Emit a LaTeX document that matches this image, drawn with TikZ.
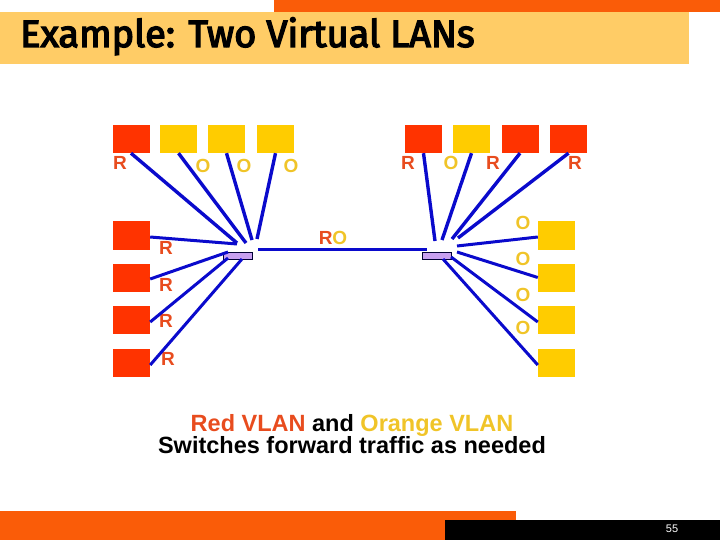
\documentclass[tikz,border=0pt]{standalone}
\usepackage{fontspec}
\setmainfont{Liberation Sans}
\newfontfamily\titlefont{Fira Sans}[FakeBold=3.5]
\usepackage{xcolor}
\definecolor{vlred}{RGB}{255,51,0}
\definecolor{vlyellow}{RGB}{255,204,0}
\definecolor{vlredtxt}{RGB}{232,76,30}
\definecolor{vlorgtxt}{RGB}{240,196,40}
\definecolor{vlblue}{RGB}{10,10,204}
\definecolor{vltitle}{RGB}{255,204,102}
\definecolor{vlorange}{RGB}{250,92,8}
\definecolor{vlswitch}{RGB}{200,160,240}
\usetikzlibrary{positioning}

\tikzset{
  redhost/.style={fill=vlred, minimum width=37pt, minimum height=28pt, inner sep=0pt},
  orghost/.style={fill=vlyellow, minimum width=37pt, minimum height=28pt, inner sep=0pt},
  switchbox/.style={draw=black!80!blue, fill=vlswitch, line width=0.8pt,
                    minimum width=29pt, minimum height=7pt, inner sep=0pt},
  rlab/.style={font=\fontsize{19}{20}\selectfont\bfseries, text=vlredtxt, inner sep=0pt},
  olab/.style={font=\fontsize{19}{20}\selectfont\bfseries, text=vlorgtxt, inner sep=0pt},
  wire/.style={vlblue, line width=3.4pt},
}

\begin{document}
\begin{tikzpicture}[x=1pt, y=-1pt]
\useasboundingbox (0,0) rectangle (720,540);

% --- Title bar ---
\fill[vlorange] (274,0) rectangle (720,12);
\fill[vltitle] (0,12) rectangle (689,64);
\node[anchor=base west, inner sep=0pt, font=\titlefont\fontsize{38}{38}\selectfont]
     (title) at (20,47) {Example: Two Virtual LANs};

% --- Footer ---
\fill[vlorange] (0,511) rectangle (516,540);
\fill[black] (445,520) rectangle (720,540);
\node[text=white, font=\fontsize{11}{12}\selectfont, inner sep=0pt] (page) at (672,529) {55};

% --- Switches ---
\node[switchbox] (swl) at (237.5,255.5) {};
\node[switchbox] (swr) at (436.5,255.5) {};

% --- Left switch: hosts above ---
\node[redhost] (tl1) at (131,139) {};
\node[orghost] (tl2) at (178.5,139) {};
\node[orghost] (tl3) at (226.5,139) {};
\node[orghost] (tl4) at (275.5,139) {};
\node[rlab] (ltl1) at (120,163) {R};
\node[olab] (ltl2) at (203,166) {O};
\node[olab] (ltl3) at (244,166) {O};
\node[olab] (ltl4) at (291,166) {O};

% --- Left switch: hosts at the side ---
\node[redhost] (lc1) at (131.5,235.5) {};
\node[redhost] (lc2) at (131.5,277.5) {};
\node[redhost] (lc3) at (131.5,320) {};
\node[redhost] (lc4) at (131.5,362.5) {};
\node[rlab] (llc1) at (166,248) {R};
\node[rlab] (llc2) at (166,285) {R};
\node[rlab] (llc3) at (166,321) {R};
\node[rlab] (llc4) at (168,359) {R};

% --- Right switch: hosts above ---
\node[redhost] (tr1) at (423.5,139) {};
\node[orghost] (tr2) at (471.5,139) {};
\node[redhost] (tr3) at (520,139) {};
\node[redhost] (tr4) at (568.5,139) {};
\node[rlab] (ltr1) at (408,163) {R};
\node[olab] (ltr2) at (451,163) {O};
\node[rlab] (ltr3) at (493,163) {R};
\node[rlab] (ltr4) at (575,163) {R};

% --- Right switch: hosts at the side ---
\node[orghost] (rc1) at (556.5,235.5) {};
\node[orghost] (rc2) at (556.5,277.5) {};
\node[orghost] (rc3) at (556.5,320) {};
\node[orghost] (rc4) at (556.5,362.5) {};
\node[olab] (lrc1) at (523,223) {O};
\node[olab] (lrc2) at (523,259) {O};
\node[olab] (lrc3) at (523,295) {O};
\node[olab] (lrc4) at (523,328) {O};

% Wire ends near the switches
\coordinate (el1) at (237,243);
\coordinate (el2) at (246,243);
\coordinate (el3) at (252,240);
\coordinate (el4) at (257,239);
\coordinate (es1) at (237,244);
\coordinate (es2) at (228,252);
\coordinate (es3) at (228,258);
\coordinate (es4) at (242,259);
\coordinate (er1) at (435,241);
\coordinate (er2) at (442,240);
\coordinate (er3) at (452,239);
\coordinate (er4) at (458,238);
\coordinate (et1) at (457,246);
\coordinate (et2) at (457,252);
\coordinate (et3) at (451,257);
\coordinate (et4) at (443,259);
\coordinate (trunkl) at (258,249);
\coordinate (trunkr) at (427,249);

% Wires
\draw[wire] (tl1.south) -- (el1);
\draw[wire] (tl2.south) -- (el2);
\draw[wire] (tl3.south) -- (el3);
\draw[wire] (tl4.south) -- (el4);
\draw[wire, line width=3pt] ([yshift=-1.5pt]lc1.east) -- (es1);
\draw[wire, line width=3pt] ([yshift=-1.5pt]lc2.east) -- (es2);
\draw[wire, line width=3pt] ([yshift=-2pt]lc3.east) -- (es3);
\draw[wire, line width=3pt] ([yshift=-2.5pt]lc4.east) -- (es4);
\draw[wire] (tr1.south) -- (er1);
\draw[wire] (tr2.south) -- (er2);
\draw[wire] (tr3.south) -- (er3);
\draw[wire] (tr4.south) -- (er4);
\draw[wire, line width=3pt] ([yshift=-1.5pt]rc1.west) -- (et1);
\draw[wire, line width=3pt] (rc2.west) -- (et2);
\draw[wire, line width=3pt] ([yshift=-2pt]rc3.west) -- (et3);
\draw[wire, line width=3pt] ([yshift=-2.5pt]rc4.west) -- (et4);

% Trunk between the switches
\draw[wire, line width=3pt] (trunkl) -- (trunkr);
\node[inner sep=0pt, font=\fontsize{19}{20}\selectfont\bfseries] (ltrunk) at (333,238)
     {\textcolor{vlredtxt}{R}\textcolor{vlorgtxt}{O}};

% --- Caption ---
\node[anchor=base, inner sep=0pt, font=\fontsize{23.5}{24}\selectfont\bfseries] (cap1) at (352,431)
     {\textcolor{vlredtxt}{Red VLAN} and \textcolor{vlorgtxt}{Orange VLAN}};
\node[anchor=base, inner sep=0pt, font=\fontsize{23.5}{24}\selectfont\bfseries] (cap2) at (352,453)
     {Switches forward traffic as needed};

\end{tikzpicture}
\end{document}
